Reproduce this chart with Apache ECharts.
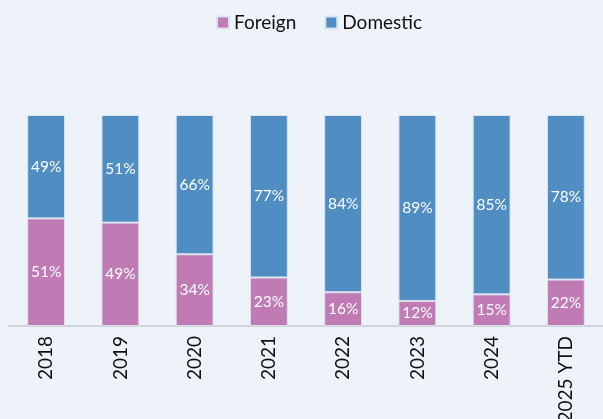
<!DOCTYPE html>
<html>
<head>
<meta charset="utf-8">
<script src="https://cdn.jsdelivr.net/npm/echarts@6/dist/echarts.min.js"></script>
<style>
  html, body { margin: 0; padding: 0; background: #eef2f9; }
  #chart { width: 603px; height: 419px; }
</style>
</head>
<body>
<div id="chart"></div>
<script>
const years = ['2018', '2019', '2020', '2021', '2022', '2023', '2024', '2025 YTD']
const foreign = [51, 49, 34, 23, 16, 12, 15, 22]
const domestic = [49, 51, 66, 77, 84, 89, 85, 78]

// rounded shares don't always add to 100, so scale each bar to its total
function share(arr, i) {
  return arr[i] / (foreign[i] + domestic[i]) * 100
}

const chart = echarts.init(document.getElementById('chart'))

const labelStyle = {
  show: true,
  position: 'inside',
  color: '#ffffff',
  fontSize: 15.5,
  fontFamily: 'Lato'
}

chart.setOption({
  backgroundColor: '#eef2f9',
  animation: false,
  legend: {
    top: 8,
    left: 211,
    itemWidth: 12,
    itemHeight: 12,
    itemGap: 28,
    icon: 'rect',
    textStyle: { color: '#111111', fontSize: 19, fontFamily: 'Lato' },
    data: ['Foreign', 'Domestic']
  },
  grid: { left: 9, right: 0, top: 115, bottom: 93, outerBoundsMode: 'none', containLabel: false },
  xAxis: {
    type: 'category',
    data: years,
    axisLine: { lineStyle: { color: '#d0d3d8', width: 2 } },
    axisTick: { show: false },
    axisLabel: {
      rotate: 90,
      margin: 10,
      color: '#111111',
      fontSize: 19,
      fontFamily: 'Lato'
    }
  },
  yAxis: {
    type: 'value',
    min: 0,
    max: 100,
    show: false
  },
  series: [
    {
      name: 'Foreign',
      type: 'bar',
      stack: 'total',
      barWidth: '51%',
      data: foreign.map((v, i) => share(foreign, i)),
      itemStyle: { color: '#c07bb5', borderColor: '#d9e3f0', borderWidth: 1 },
      label: { ...labelStyle, formatter: p => foreign[p.dataIndex] + '%' }
    },
    {
      name: 'Domestic',
      type: 'bar',
      stack: 'total',
      data: domestic.map((v, i) => share(domestic, i)),
      itemStyle: { color: '#4f8dc3', borderColor: '#d9e3f0', borderWidth: 1 },
      label: { ...labelStyle, formatter: p => domestic[p.dataIndex] + '%' }
    }
  ]
})
</script>
</body>
</html>
